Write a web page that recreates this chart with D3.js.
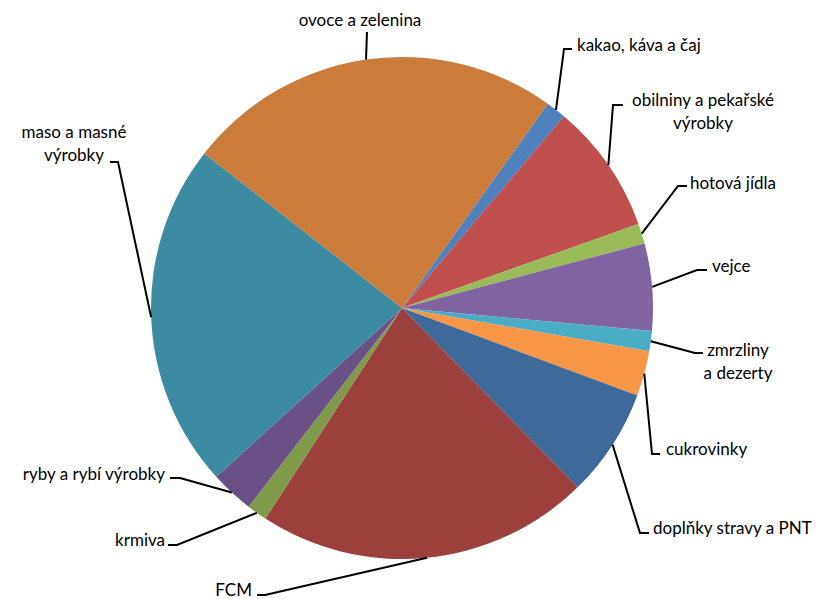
<!DOCTYPE html>
<html>
<head>
<meta charset="utf-8">
<script src="https://cdn.jsdelivr.net/npm/d3@7"></script>
<style>
  body { margin: 0; background: #fff; }
  svg text { font-family: Lato, "Open Sans", sans-serif; font-size: 17px; fill: #000; }
</style>
</head>
<body>
<svg id="pie" width="829" height="599"></svg>
<script>
// data, clockwise from the kakao slice (Excel series order)
var categories = ['kakao, káva a čaj', 'obilniny a pekařské výrobky', 'hotová jídla', 'vejce',
    'zmrzliny a dezerty', 'cukrovinky', 'doplňky stravy a PNT', 'FCM', 'krmiva',
    'ryby a rybí výrobky', 'maso a masné výrobky', 'ovoce a zelenina'];
var shares = [1.3, 8.4, 1.3, 5.6, 1.3, 2.9, 7.0, 21.5, 1.3, 2.8, 22.3, 24.3];
var colors = ['#4F81BD', '#C0504D', '#9BBB59', '#8064A2', '#4BACC6', '#F79646',
    '#3D6A9A', '#9C403E', '#7F9A48', '#6A5185', '#3C8BA3', '#CB7B3A'];

// label layout: elbow of the leader, end of the short tick, text anchor point
var labelLayout = [
    {lines: ['kakao, káva a čaj'], ex: 564, ey: 49, hx: 572, tx: 577, ty: 45, anchor: 'start'},
    {lines: ['obilniny a pekařské', 'výrobky'], ex: 613, ey: 105, hx: 623, tx: 703, ty: 100, anchor: 'middle'},
    {lines: ['hotová jídla'], ex: 678, ey: 186, hx: 687, tx: 690, ty: 183, anchor: 'start'},
    {lines: ['vejce'], ex: 697, ey: 270, hx: 707, tx: 712, ty: 266, anchor: 'start'},
    {lines: ['zmrzliny', 'a dezerty'], ex: 695, ey: 353, hx: 703, tx: 738, ty: 350, anchor: 'middle'},
    {lines: ['cukrovinky'], ex: 652, ey: 454, hx: 660, tx: 666, ty: 449, anchor: 'start'},
    {lines: ['doplňky stravy a PNT'], ex: 640, ey: 533, hx: 649, tx: 653, ty: 528, anchor: 'start'},
    {lines: ['FCM'], ex: 265, ey: 595, hx: 257, tx: 252, ty: 590, anchor: 'end'},
    {lines: ['krmiva'], ex: 177, ey: 545, hx: 168, tx: 165, ty: 540, anchor: 'end'},
    {lines: ['ryby a rybí výrobky'], ex: 180, ey: 478, hx: 170, tx: 165, ty: 474, anchor: 'end'},
    {lines: ['maso a masné', 'výrobky'], ex: 118, ey: 162, hx: 110, tx: 74, ty: 132, anchor: 'middle'},
    {lines: ['ovoce a zelenina'], ex: 367, ey: 32, hx: 367, tx: 360, ty: 20, anchor: 'middle'}
];

var cx = 402, cy = 308, radius = 251;
var startDeg = 35.5;

var svg = d3.select('svg#pie');
var g = svg.append('g').attr('transform', 'translate(' + cx + ',' + cy + ')');

var pie = d3.pie().sort(null).value(function(d) { return d; })
    .startAngle(startDeg * Math.PI / 180)
    .endAngle(startDeg * Math.PI / 180 + 2 * Math.PI);
var arc = d3.arc().innerRadius(0).outerRadius(radius);

var arcs = pie(shares);

g.selectAll('path.slice').data(arcs).enter().append('path')
    .attr('class', 'slice')
    .attr('d', arc)
    .style('fill', function(d, i) { return colors[i]; })
    .style('stroke', 'none');

// leader lines
arcs.forEach(function(d, i) {
    var mid = (d.startAngle + d.endAngle) / 2,
        px = cx + radius * Math.sin(mid),
        py = cy - radius * Math.cos(mid),
        L = labelLayout[i];
    var context = d3.path();
    context.moveTo(px, py);
    context.lineTo(L.ex, L.ey);
    context.lineTo(L.hx, L.ey);
    svg.append('path')
        .attr('d', context.toString())
        .style('fill', 'none')
        .style('stroke', '#000')
        .style('stroke-width', '2px');

    var t = svg.append('text')
        .attr('x', L.tx)
        .attr('y', L.ty)
        .style('text-anchor', L.anchor);
    L.lines.forEach(function(line, k) {
        t.append('tspan')
            .attr('x', L.tx)
            .attr('y', L.ty + k * 23)
            .attr('dy', '0.35em')
            .text(line);
    });
});
</script>
</body>
</html>
